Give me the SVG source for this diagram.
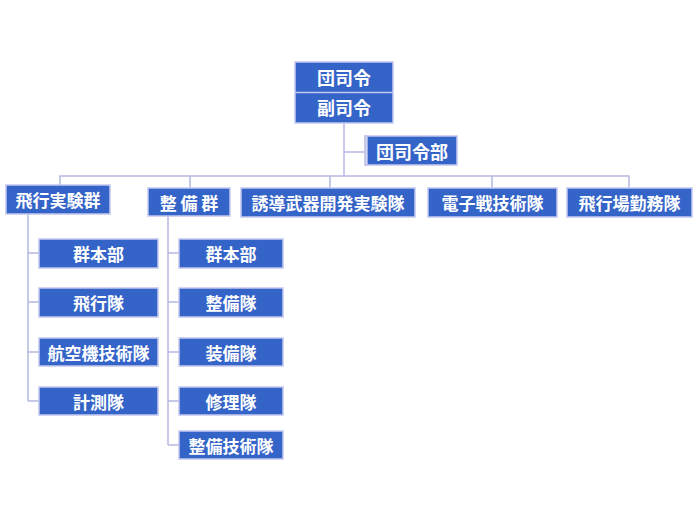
<svg xmlns="http://www.w3.org/2000/svg" width="700" height="520" viewBox="0 0 700 520">
<style>
.box{fill:#3464c8;stroke:#c4c8ee;stroke-width:1.5}
.t{fill:#ffffff;font-family:"Noto Sans CJK JP","Noto Sans CJK SC",sans-serif;font-weight:bold;font-size:17px;text-anchor:middle;dominant-baseline:central}
.tl{font-size:18px}
.c{fill:none;stroke:#b4b8e0;stroke-width:1.5}
</style>
<rect width="700" height="520" fill="#ffffff"/>
<g id="connectors">
<path class="c" d="M344,123V176"/>
<path class="c" d="M344,152H365M368,136H365V165H368"/>
<path class="c" d="M60,185V176H629V188M190,176V188M330,176V188M492,176V188"/>
<path class="c" d="M28,214V401M28,253H39M28,302H39M28,352H39M28,401H39"/>
<path class="c" d="M168,216V445M168,253H179M168,302H179M168,352H179M168,401H179M168,445H179"/>
</g>
<g id="n-top">
<rect class="box" x="295" y="62" width="98" height="61"/>
<line x1="295" y1="92.5" x2="393" y2="92.5" stroke="#c4c8ee" stroke-width="1.5"/>
<text class="t tl" x="344" y="77">団司令</text>
<text class="t tl" x="344" y="107">副司令</text>
</g>
<g id="n-hq"><rect class="box" x="367" y="136" width="90" height="29"/><text class="t tl" x="412" y="150.5">団司令部</text></g>
<g id="n-fte"><rect class="box" x="6" y="185" width="104" height="29"/><text class="t" x="58" y="199.5">飛行実験群</text></g>
<g id="n-mnt"><rect class="box" x="148" y="188" width="82" height="28"/><text class="t" x="189" y="202">整 備 群</text></g>
<g id="n-msl"><rect class="box" x="241" y="188" width="174" height="29"/><text class="t" x="328" y="202.5">誘導武器開発実験隊</text></g>
<g id="n-ew"><rect class="box" x="428" y="188" width="129" height="29"/><text class="t" x="492.5" y="202.5">電子戦技術隊</text></g>
<g id="n-af"><rect class="box" x="567" y="188" width="125" height="29"/><text class="t" x="629.5" y="202.5">飛行場勤務隊</text></g>
<g id="n-f1"><rect class="box" x="39" y="239" width="119" height="29"/><text class="t" x="98.5" y="253.5">群本部</text></g>
<g id="n-f2"><rect class="box" x="39" y="288" width="119" height="29"/><text class="t" x="98.5" y="302.5">飛行隊</text></g>
<g id="n-f3"><rect class="box" x="39" y="338" width="119" height="28"/><text class="t" x="98.5" y="352">航空機技術隊</text></g>
<g id="n-f4"><rect class="box" x="39" y="387" width="119" height="28"/><text class="t" x="98.5" y="401">計測隊</text></g>
<g id="n-m1"><rect class="box" x="179" y="239" width="104" height="29"/><text class="t" x="231" y="253.5">群本部</text></g>
<g id="n-m2"><rect class="box" x="179" y="288" width="104" height="29"/><text class="t" x="231" y="302.5">整備隊</text></g>
<g id="n-m3"><rect class="box" x="179" y="338" width="104" height="28"/><text class="t" x="231" y="352">装備隊</text></g>
<g id="n-m4"><rect class="box" x="179" y="387" width="104" height="28"/><text class="t" x="231" y="401">修理隊</text></g>
<g id="n-m5"><rect class="box" x="179" y="431" width="104" height="28"/><text class="t" x="231" y="445">整備技術隊</text></g>
</svg>
